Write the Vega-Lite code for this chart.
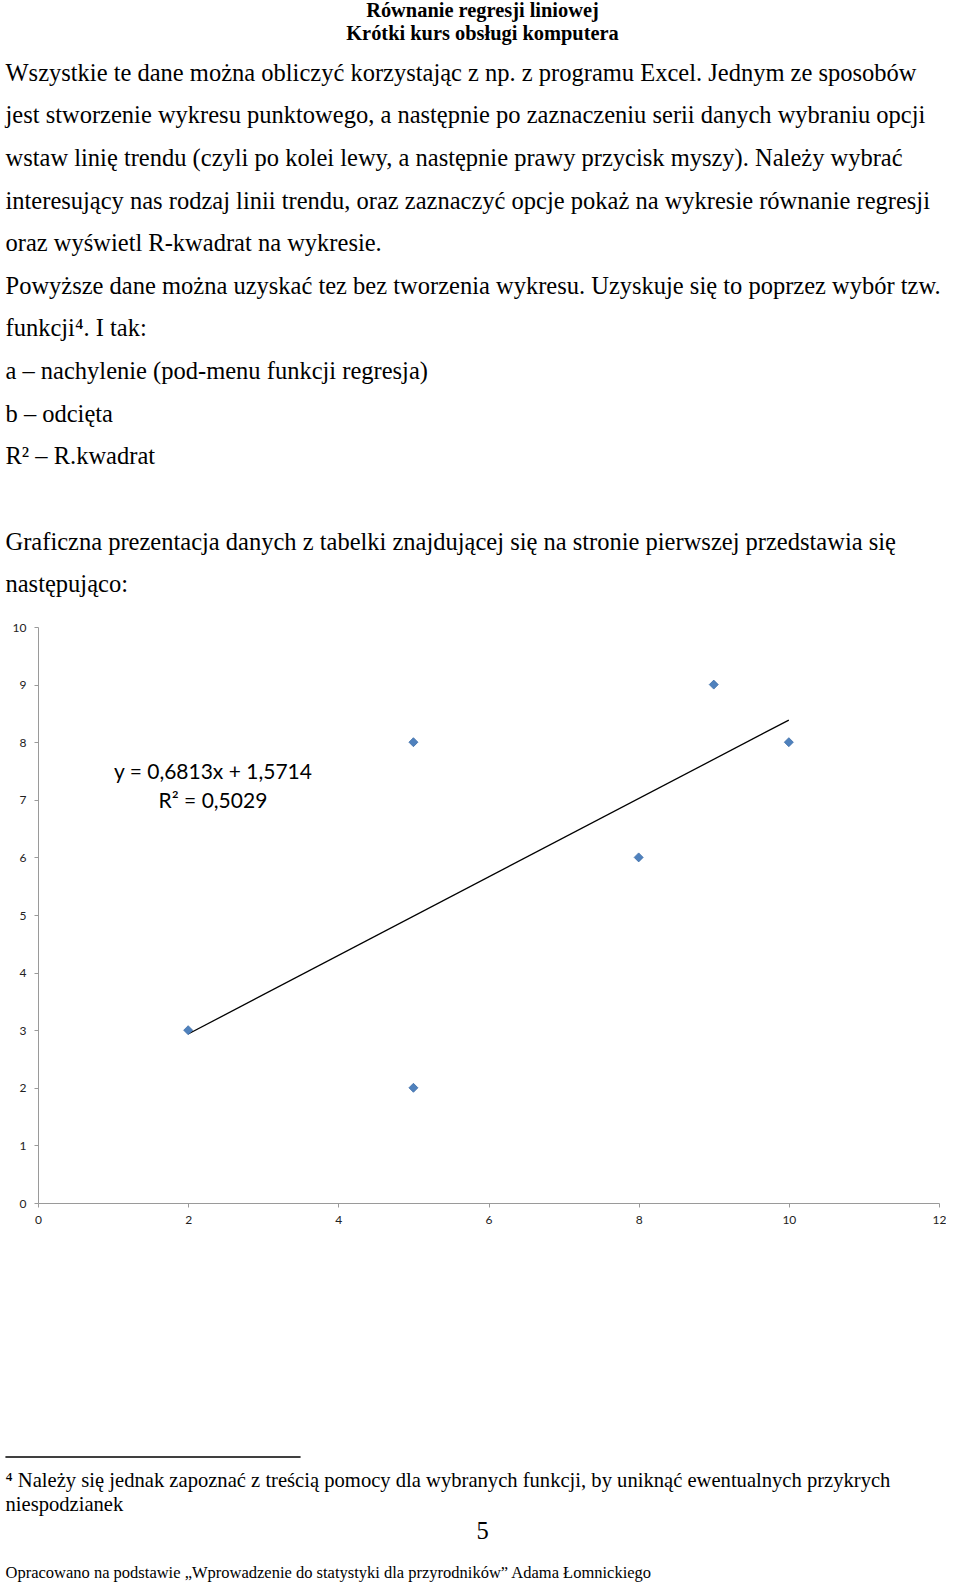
{
  "$schema": "https://vega.github.io/schema/vega-lite/v6.json",
  "background": "white",
  "padding": {"left": 5, "top": 0, "right": 0, "bottom": 0},
  "spacing": 0,
  "config": {
    "view": {"stroke": null},
    "font": "Liberation Serif",
    "text": {"font": "Liberation Serif", "color": "#000000"}
  },
  "datasets": {
    "header": [
      {"line": 0, "text": "Równanie regresji liniowej"},
      {"line": 1, "text": "Krótki kurs obsługi komputera"}
    ],
    "body": [
      {"line": 0, "text": "Wszystkie te dane można obliczyć korzystając z np. z programu Excel. Jednym ze sposobów"},
      {"line": 1, "text": "jest stworzenie wykresu punktowego, a następnie po zaznaczeniu serii danych wybraniu opcji"},
      {"line": 2, "text": "wstaw linię trendu (czyli po kolei lewy, a następnie prawy przycisk myszy). Należy wybrać"},
      {"line": 3, "text": "interesujący nas rodzaj linii trendu, oraz zaznaczyć opcje pokaż na wykresie równanie regresji"},
      {"line": 4, "text": "oraz wyświetl R-kwadrat na wykresie."},
      {"line": 5, "text": "Powyższe dane można uzyskać tez bez tworzenia wykresu. Uzyskuje się to poprzez wybór tzw."},
      {"line": 6, "text": "funkcji⁴. I tak:"},
      {"line": 7, "text": "a – nachylenie (pod-menu funkcji regresja)"},
      {"line": 8, "text": "b – odcięta"},
      {"line": 9, "text": "R² – R.kwadrat"},
      {"line": 11, "text": "Graficzna prezentacja danych z tabelki znajdującej się na stronie pierwszej przedstawia się"},
      {"line": 12, "text": "następująco:"}
    ],
    "points": [
      {"x": 2, "y": 3},
      {"x": 5, "y": 8},
      {"x": 5, "y": 2},
      {"x": 8, "y": 6},
      {"x": 9, "y": 9},
      {"x": 10, "y": 8}
    ],
    "trend": [
      {"x": 2, "y": 2.934},
      {"x": 10, "y": 8.384}
    ],
    "equation": [
      {"label": "y = 0,6813x + 1,5714\nR² = 0,5029"}
    ],
    "footnote": [
      {"line": 0, "text": "⁴ Należy się jednak zapoznać z treścią pomocy dla wybranych funkcji, by uniknąć ewentualnych przykrych"},
      {"line": 1, "text": "niespodzianek"}
    ],
    "page": [
      {"line": 0, "text": "5"}
    ],
    "footer": [
      {"line": 0, "text": "Opracowano na podstawie „Wprowadzenie do statystyki dla przyrodników” Adama Łomnickiego"}
    ]
  },
  "vconcat": [
    {
      "width": 901,
      "height": 52,
      "data": {"name": "header"},
      "mark": {"type": "text", "fontSize": 20.4, "fontWeight": "bold", "align": "center", "baseline": "middle"},
      "encoding": {
        "x": {"value": 444.5},
        "y": {"field": "line", "type": "quantitative", "scale": {"domain": [-0.476, 1.755], "reverse": true, "zero": false, "nice": false}, "axis": null},
        "text": {"field": "text"}
      }
    },
    {
      "width": 901,
      "height": 569,
      "data": {"name": "body"},
      "mark": {"type": "text", "fontSize": 24.5, "align": "left", "baseline": "middle"},
      "encoding": {
        "x": {"value": -32.5},
        "y": {"field": "line", "type": "quantitative", "scale": {"domain": [-0.5116, 12.842], "reverse": true, "zero": false, "nice": false}, "axis": null},
        "text": {"field": "text"}
      }
    },
    {
      "width": 901,
      "height": 576,
      "layer": [
        {
          "data": {"name": "trend"},
          "mark": {"type": "line", "color": "#000000", "strokeWidth": 1.3},
          "encoding": {
            "x": {"field": "x", "type": "quantitative"},
            "y": {"field": "y", "type": "quantitative"}
          }
        },
        {
          "data": {"name": "points"},
          "mark": {"type": "point", "shape": "diamond", "filled": true, "fill": "#4F81BD", "stroke": "#3C6DA8", "strokeWidth": 0.8, "size": 81, "opacity": 1},
          "encoding": {
            "x": {"field": "x", "type": "quantitative"},
            "y": {"field": "y", "type": "quantitative"}
          }
        },
        {
          "data": {"name": "equation"},
          "mark": {"type": "text", "font": "Lato", "fontSize": 21, "align": "center", "baseline": "middle", "lineBreak": "\n", "lineHeight": 29, "color": "#000000"},
          "encoding": {
            "x": {"datum": 2.33},
            "y": {"datum": 7.47},
            "text": {"field": "label"}
          }
        }
      ],
      "encoding": {
        "x": {
          "type": "quantitative",
          "scale": {"domain": [0, 12], "nice": false, "zero": false},
          "axis": {"values": [0, 2, 4, 6, 8, 10, 12], "title": null, "grid": false, "domainColor": "#9a9a9a", "tickColor": "#9a9a9a", "tickSize": 4, "labelPadding": 7, "labelFont": "Lato", "labelFontSize": 12, "labelColor": "#222222", "labelFlush": false}
        },
        "y": {
          "type": "quantitative",
          "scale": {"domain": [0, 10], "nice": false, "zero": false},
          "axis": {"values": [0, 1, 2, 3, 4, 5, 6, 7, 8, 9, 10], "title": null, "grid": false, "domainColor": "#9a9a9a", "tickColor": "#9a9a9a", "tickSize": 4, "labelPadding": 8, "labelFont": "Lato", "labelFontSize": 12, "labelColor": "#222222", "labelFlush": false}
        }
      }
    },
    {
      "width": 901,
      "height": 292,
      "layer": [
        {
          "data": {"name": "footnote"},
          "mark": {"type": "rule", "color": "#000000", "strokeWidth": 1},
          "encoding": {
            "x": {"value": -32.5},
            "x2": {"value": 262.5},
            "y": {"datum": -1, "type": "quantitative"}
          }
        },
        {
          "data": {"name": "footnote"},
          "mark": {"type": "text", "fontSize": 20.6, "align": "left", "baseline": "middle"},
          "encoding": {
            "x": {"value": -32.5},
            "y": {"field": "line", "type": "quantitative"},
            "text": {"field": "text"}
          }
        }
      ],
      "resolve": {"scale": {"y": "shared"}},
      "encoding": {
        "y": {"type": "quantitative", "scale": {"domain": [-10.667, 1.5], "reverse": true, "zero": false, "nice": false}, "axis": null}
      }
    },
    {
      "width": 901,
      "height": 30,
      "data": {"name": "page"},
      "mark": {"type": "text", "fontSize": 24.5, "align": "center", "baseline": "middle"},
      "encoding": {
        "x": {"value": 444.5},
        "y": {"field": "line", "type": "quantitative", "scale": {"domain": [-0.5, 0.5], "reverse": true, "zero": false, "nice": false}, "axis": null},
        "text": {"field": "text"}
      }
    },
    {
      "width": 901,
      "height": 36,
      "data": {"name": "footer"},
      "mark": {"type": "text", "fontSize": 16.5, "align": "left", "baseline": "middle"},
      "encoding": {
        "x": {"value": -32.5},
        "y": {"field": "line", "type": "quantitative", "scale": {"domain": [-0.722, 0.278], "reverse": true, "zero": false, "nice": false}, "axis": null},
        "text": {"field": "text"}
      }
    }
  ]
}
